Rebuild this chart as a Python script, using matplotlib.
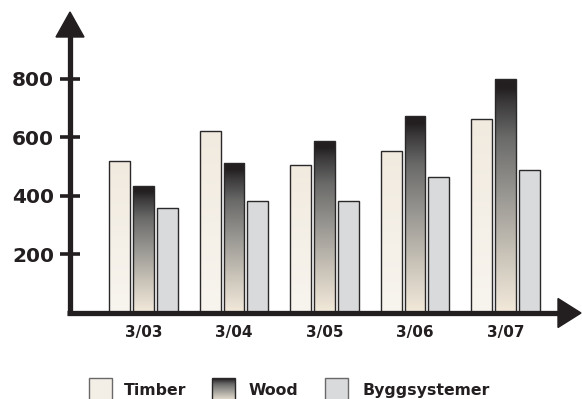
import numpy as np
import matplotlib
matplotlib.use('Agg')
import matplotlib.pyplot as plt
from matplotlib.colors import LinearSegmentedColormap
from matplotlib.patches import Rectangle, Polygon

# data
months = ['3/03', '3/04', '3/05', '3/06', '3/07']
timber = [518, 620, 507, 552, 664]
wood   = [433, 512, 589, 674, 800]
bygg   = [357, 384, 384, 465, 489]
series = ['Timber', 'Wood', 'Byggsystemer']
yticks = [200, 400, 600, 800]

# style
INK    = '#231f20'
CREAM  = '#f4efe6'
GREY   = '#d9dadc'
EDGE   = '#2b2829'
plt.rcParams['font.family'] = ['DejaVu Sans']
plt.rcParams['font.weight'] = 'bold'

woodmap = LinearSegmentedColormap.from_list('wood', [
	(0.00, '#f3eadb'), (0.25, '#c9c3b8'), (0.50, '#9a9893'),
	(0.75, '#6a6a69'), (0.90, '#3b393a'), (0.96, INK), (1.00, INK)])
timbermap = LinearSegmentedColormap.from_list('timber', ['#f8f5ef', '#f1eadf'])
ramp = np.linspace(0, 1, 256).reshape(-1, 1)

W, H = 582, 399
fig = plt.figure(figsize=(W / 100, H / 100), dpi=100)

# axes placed in pixels
left, right, top, zero = 70, 580, 12, 313
ax = fig.add_axes([left / W, (H - zero) / H, (right - left) / W, (zero - top) / H])
ax.set_facecolor('none')
for s in ax.spines.values():
	s.set_visible(False)

pitch = 90.5
xlo, xhi = (left - 143.5) / pitch, (right - 143.5) / pitch
ylo, yhi = 0, (zero - top) / 0.2928

width  = 0.232
offset = 0.265
x = np.arange(len(months))

def gradient_bars(xs, vals, cmap):
	bars = ax.bar(xs, vals, width, facecolor='none', edgecolor=EDGE, linewidth=1.0, zorder=3)
	for b in bars:
		im = ax.imshow(ramp, cmap=cmap, origin='lower', aspect='auto', zorder=2,
			extent=(b.get_x(), b.get_x() + b.get_width(), 0, b.get_height()))
		im.set_clip_path(b)
	return bars

gradient_bars(x - offset, timber, timbermap)
gradient_bars(x, wood, woodmap)
ax.bar(x + offset, bygg, width, color=GREY, edgecolor=EDGE, linewidth=1.0, zorder=3)

ax.set_xlim(xlo, xhi)
ax.set_ylim(ylo, yhi)
ax.set_xticks(x, months)
ax.set_yticks(yticks, [str(v) for v in yticks])
ax.tick_params(axis='x', length=0, pad=9, labelsize=11, labelcolor=INK)
ax.tick_params(axis='y', direction='inout', length=15, width=2.6, color=INK,
	pad=4, labelsize=14.5, labelcolor=INK)

# overlay in pixel coordinates for arrows and legend
ov = fig.add_axes([0, 0, 1, 1], zorder=5)
ov.set_xlim(0, W)
ov.set_ylim(H, 0)
ov.axis('off')
ov.patch.set_alpha(0)

ov.plot([left, left], [zero + 2, 36], color=INK, lw=3.8, solid_capstyle='butt')
ov.add_patch(Polygon([(56, 37), (84, 37), (left, 12)], closed=True, color=INK))
ov.plot([left - 3, 560], [zero, zero], color=INK, lw=3.8, solid_capstyle='butt')
ov.add_patch(Polygon([(558, 298.5), (558, 327.5), (581, zero)], closed=True, color=INK))

# legend
lx = [89, 212, 325]
tx = [124, 249, 363]
ly0, ly1 = 378, 402
ov.add_patch(Rectangle((lx[0], ly0), 23, ly1 - ly0, facecolor=CREAM, edgecolor='#6b6869', lw=1.0))
im = ov.imshow(ramp[::-1], cmap=woodmap, origin='upper', aspect='auto',
	extent=(lx[1], lx[1] + 23, ly1, ly0), zorder=2)
ov.add_patch(Rectangle((lx[1], ly0), 23, ly1 - ly0, facecolor='none', edgecolor=EDGE, lw=1.0, zorder=3))
ov.add_patch(Rectangle((lx[2], ly0), 23, ly1 - ly0, facecolor=GREY, edgecolor='#6b6869', lw=1.0))
ov.set_xlim(0, W)
ov.set_ylim(H, 0)
for px, name in zip(tx, series):
	ov.text(px, 395, name, fontsize=11.3, fontweight='bold', color=INK, va='baseline', ha='left')

fig.savefig('out.png', dpi=100)
